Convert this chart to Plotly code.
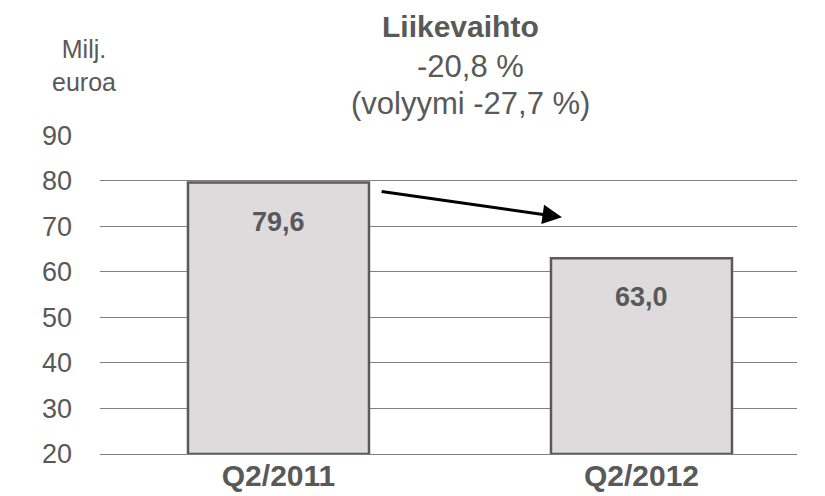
import plotly.graph_objects as go

categories = ["Q2/2011", "Q2/2012"]
values = [79.6, 63.0]
value_labels = ["79,6", "63,0"]
y_ticks = [20, 30, 40, 50, 60, 70, 80, 90]
title = "Liikevaihto"
subtitle1 = "-20,8 %"
subtitle2 = "(volyymi -27,7 %)"
unit_label = "Milj.<br>euroa"

FONT = "Liberation Sans, Arial, sans-serif"
GRAY = "#595959"
xpos = list(range(len(categories)))

fig = go.Figure()
fig.add_trace(go.Bar(
    x=xpos, y=[v - 20 for v in values], base=20, width=0.4986,
    marker=dict(color="#dedbdd", line=dict(color="#5a5a5a", width=2.5)),
    hoverinfo="skip",
))

for xi, v, lab in zip(xpos, values, value_labels):
    fig.add_annotation(x=xi, y=v, text="<b>%s</b>" % lab, showarrow=False,
                       yshift=-39, font=dict(size=27, color=GRAY, family=FONT))

# trend arrow
fig.add_annotation(x=0.781, y=72.0, ax=0.28, ay=77.7, xref="x", yref="y",
                   axref="x", ayref="y", text="", showarrow=True,
                   arrowhead=2, arrowsize=1.3, arrowwidth=3, arrowcolor="#000000")

fig.add_annotation(xref="paper", yref="paper", x=0.5165, y=1.3386, yanchor="middle",
                   showarrow=False, text="<b>%s</b>" % title,
                   font=dict(size=30, color=GRAY, family=FONT))
fig.add_annotation(xref="paper", yref="paper", x=0.531, y=1.2163, yanchor="middle",
                   showarrow=False, text=subtitle1,
                   font=dict(size=31, color=GRAY, family=FONT))
fig.add_annotation(xref="paper", yref="paper", x=0.531, y=1.0972, yanchor="middle",
                   showarrow=False, text=subtitle2,
                   font=dict(size=31, color=GRAY, family=FONT))
fig.add_annotation(xref="paper", yref="paper", x=-0.0717, y=1.218, yanchor="middle",
                   showarrow=False, align="center", text=unit_label,
                   font=dict(size=25, color=GRAY, family=FONT))

fig.update_layout(
    width=817, height=488,
    margin=dict(l=92, r=28, t=127, b=42),
    paper_bgcolor="white", plot_bgcolor="white",
    showlegend=False,
    font=dict(family=FONT, color=GRAY),
    xaxis=dict(range=[-0.4917, 1.4284], tickvals=xpos,
               ticktext=["<b>%s</b>" % c for c in categories],
               tickfont=dict(size=30, color=GRAY),
               showgrid=False, zeroline=False, showline=True,
               linecolor="#808080", linewidth=1, ticks="",
               ticklabelstandoff=-5, automargin=False),
    yaxis=dict(range=[20, 90.05], tickvals=y_ticks, showgrid=True,
               gridcolor="#808080", gridwidth=1, zeroline=False,
               showline=False, ticks="", ticklabelstandoff=27,
               tickfont=dict(size=27, color=GRAY), automargin=False),
)

fig.write_html("out.html")
